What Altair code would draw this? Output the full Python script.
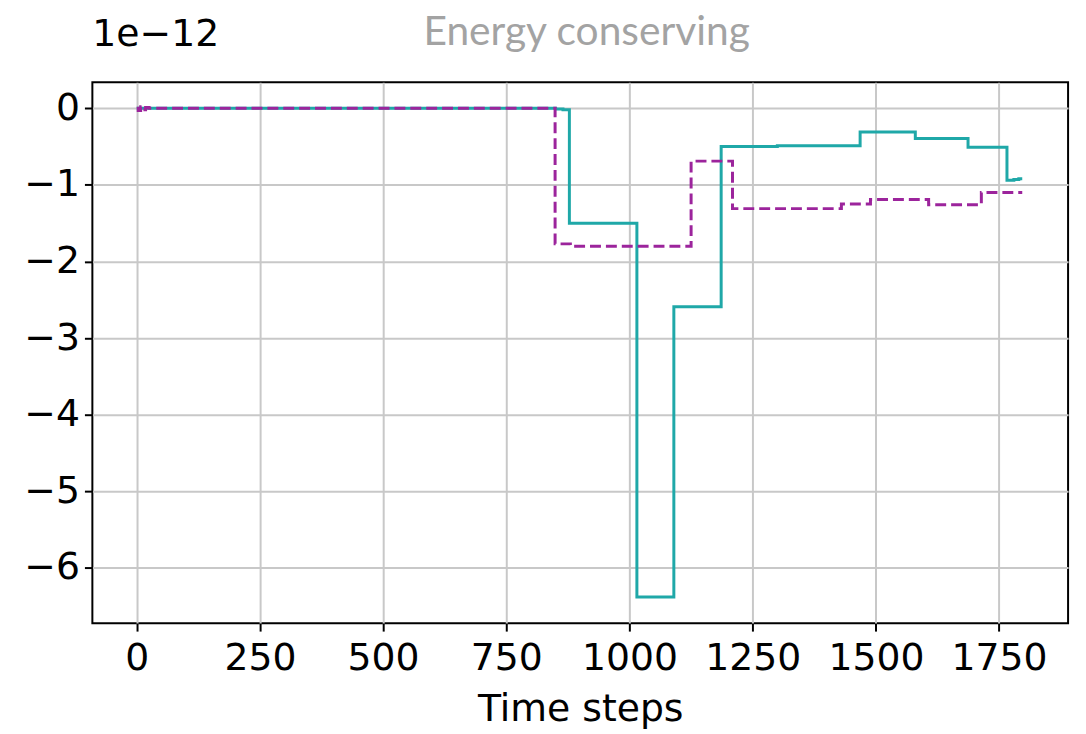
import altair as alt
import pandas as pd

# Teal (solid) series: step change points (time step, value in units of 1e-12)
teal_t = [0, 30, 850, 865, 878, 1015, 1090, 1186, 1300, 1468, 1580, 1687, 1766, 1780, 1790, 1797]
teal_v = [0.0, 0.0, -0.01, -0.02, -1.5, -6.38, -2.59, -0.5, -0.49, -0.31, -0.395, -0.51, -0.94, -0.93, -0.92, -0.92]

# Magenta (dashed) series
mag_t = [0, 3, 8, 13, 18, 25, 849, 880, 1125, 1209, 1430, 1489, 1607, 1714, 1797]
mag_v = [0.0, -0.03, 0.02, -0.02, 0.01, 0.0, -1.77, -1.8, -0.69, -1.31, -1.25, -1.19, -1.26, -1.10, -1.10]

x_ticks = [0, 250, 500, 750, 1000, 1250, 1500, 1750]
y_ticks = [0, -1, -2, -3, -4, -5, -6]
offset_label = ["1e\u221212"]
title_label = ["Energy conserving"]

teal_df = pd.DataFrame({"t": teal_t, "v": teal_v})
mag_df = pd.DataFrame({"t": mag_t, "v": mag_v})
off_df = pd.DataFrame({"label": offset_label})
title_df = pd.DataFrame({"label": title_label})

xscale = alt.Scale(domain=[-90, 1890], nice=False, zero=False)
yscale = alt.Scale(domain=[-6.72, 0.34], nice=False, zero=False)

FS = 38

xaxis = alt.Axis(
    values=x_ticks, title="Time steps", format="d",
    labelFont="DejaVu Sans", labelFontSize=FS, labelColor="black",
    titleFont="DejaVu Sans", titleFontSize=FS, titleFontWeight="normal", titleColor="black",
    tickColor="black", tickWidth=2, tickSize=8, labelPadding=9, titlePadding=13,
    domain=False, grid=True, gridColor="#c8c8c8", gridWidth=2,
)
yaxis = alt.Axis(
    values=y_ticks, title=None, labelExpr="replace(format(datum.value, 'd'), '-', '\u2212')",
    labelFont="DejaVu Sans", labelFontSize=FS, labelColor="black",
    tickColor="black", tickWidth=2, tickSize=8, labelPadding=5,
    domain=False, grid=True, gridColor="#c8c8c8", gridWidth=2,
)

teal = alt.Chart(teal_df).mark_line(
    interpolate="step-after", color="#1fa8a8", strokeWidth=3
).encode(
    x=alt.X("t:Q", scale=xscale, axis=xaxis),
    y=alt.Y("v:Q", scale=yscale, axis=yaxis),
)

mag = alt.Chart(mag_df).mark_line(
    interpolate="step-after", color="#9c249c", strokeWidth=3, strokeDash=[11, 5]
).encode(
    x=alt.X("t:Q", scale=xscale),
    y=alt.Y("v:Q", scale=yscale),
)

offset_text = alt.Chart(off_df).mark_text(
    font="DejaVu Sans", fontSize=FS, color="black", align="left", baseline="alphabetic"
).encode(
    x=alt.value(0), y=alt.value(-36), text="label:N"
)

title_text = alt.Chart(title_df).mark_text(
    font="Liberation Sans Narrow, Lato, sans-serif", fontSize=41, color="#a3a3a3",
    align="center", baseline="alphabetic"
).encode(
    x=alt.value(498), y=alt.value(-37), text="label:N"
)

chart = alt.layer(teal, mag, offset_text, title_text).properties(
    width=983, height=545,
    autosize=alt.AutoSizeParams(type="none"),
    padding={"left": 85, "top": 72, "right": 10, "bottom": 120},
).configure_view(
    stroke="black", strokeWidth=2
)

chart.save("out.html", embed_options={"renderer": "svg", "actions": False})
